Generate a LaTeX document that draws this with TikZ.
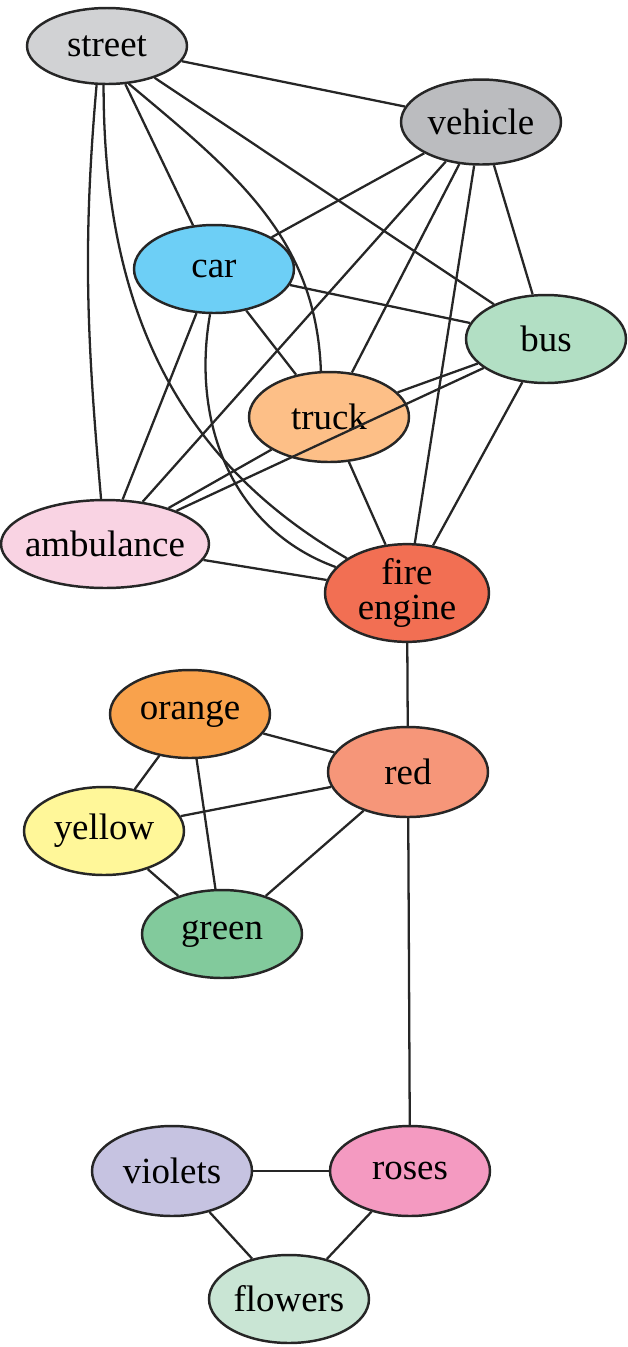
\documentclass[tikz,border=0pt]{standalone}
\usepackage{fontspec}
\setmainfont{Liberation Serif}
\usetikzlibrary{shapes.geometric}
\definecolor{cstreet}{HTML}{D1D2D4}
\definecolor{cvehicle}{HTML}{BBBCBF}
\definecolor{ccar}{HTML}{6DCFF6}
\definecolor{cbus}{HTML}{B2DFC4}
\definecolor{ctruck}{HTML}{FDBF87}
\definecolor{cambulance}{HTML}{F9D3E3}
\definecolor{cfire}{HTML}{F26F53}
\definecolor{corange}{HTML}{F9A24C}
\definecolor{cred}{HTML}{F69679}
\definecolor{cyellow}{HTML}{FFF799}
\definecolor{cgreen}{HTML}{82CA9C}
\definecolor{croses}{HTML}{F49AC1}
\definecolor{cviolets}{HTML}{C6C3E1}
\definecolor{cflowers}{HTML}{C9E5D4}
\begin{document}
\begin{tikzpicture}[
        x=0.02cm, y=-0.02cm,
        word/.style={ellipse, draw=black!85, line width=1.4pt, minimum width=3.2cm, minimum height=1.76cm, inner sep=0pt, align=center, font=\fontsize{21}{21}\selectfont},
        link/.style={line width=1.3pt, black!85}
    ]
        \useasboundingbox (0,0) rectangle (628,1347);
        % Vehicle cluster
        \node[word, fill=cstreet, minimum height=1.52cm] (street) at (107,46) {street};
        \node[word, fill=cvehicle, minimum height=1.7cm] (vehicle) at (481,122) {vehicle};
        \node[word, fill=ccar] (car) at (214,269) {car};
        \node[word, fill=cbus] (bus) at (546,339) {bus};
        \node[word, fill=ctruck, minimum height=1.8cm] (truck) at (329,417) {truck};
        \node[word, fill=cambulance, minimum width=4.16cm, inner xsep=-9pt] (ambulance) at (105,544) {ambulance};
        \node[word, fill=cfire, minimum width=3.28cm, minimum height=1.8cm, font=\fontsize{21}{20}\selectfont] (fire) at (407,593) {fire\\engine};
        % Colour cluster
        \node[word, fill=corange] (orange) at (190,714) {orange};
        \node[word, fill=cred, minimum height=1.8cm] (red) at (408,772) {red};
        \node[word, fill=cyellow] (yellow) at (104,831) {yellow};
        \node[word, fill=cgreen] (green) at (222,934) {green};
        % Flower cluster
        \node[word, fill=croses, minimum height=1.8cm] (roses) at (410,1171) {roses};
        \node[word, fill=cviolets, minimum height=1.8cm] (violets) at (172,1171) {violets};
        \node[word, fill=cflowers] (flowers) at (289,1299) {flowers};

        % Edges
        \draw[link] (street) -- (vehicle);
        \draw[link] (street) -- (car);
        \draw[link] (street) -- (bus);
        \draw[link] (street.-60) to[out=-40,in=92] (truck.100);
        \draw[link] (street.-105) to[out=-95,in=95] (ambulance.95);
        \draw[link] (street.-95) to[out=-90,in=150] (fire.150);
        \draw[link] (vehicle) -- (car);
        \draw[link] (vehicle) -- (ambulance);
        \draw[link] (vehicle) -- (truck);
        \draw[link] (vehicle) -- (fire);
        \draw[link] (vehicle) -- (bus);
        \draw[link] (car) -- (bus);
        \draw[link] (car) -- (truck);
        \draw[link] (car) -- (ambulance);
        \draw[link] (car.-95) to[out=-100,in=160] (fire.160);
        \draw[link] (truck) -- (ambulance);
        \draw[link] (truck) -- (bus);
        \draw[link] (truck) -- (fire);
        \draw[link] (bus) -- (ambulance);
        \draw[link] (bus) -- (fire);
        \draw[link] (ambulance) -- (fire);
        \draw[link] (fire) -- (red);
        \draw[link] (orange) -- (red);
        \draw[link] (orange) -- (yellow);
        \draw[link] (orange) -- (green);
        \draw[link] (yellow) -- (red);
        \draw[link] (yellow) -- (green);
        \draw[link] (red) -- (green);
        \draw[link] (red) -- (roses);
        \draw[link] (violets) -- (roses);
        \draw[link] (violets) -- (flowers);
        \draw[link] (roses) -- (flowers);
\end{tikzpicture}
\end{document}
